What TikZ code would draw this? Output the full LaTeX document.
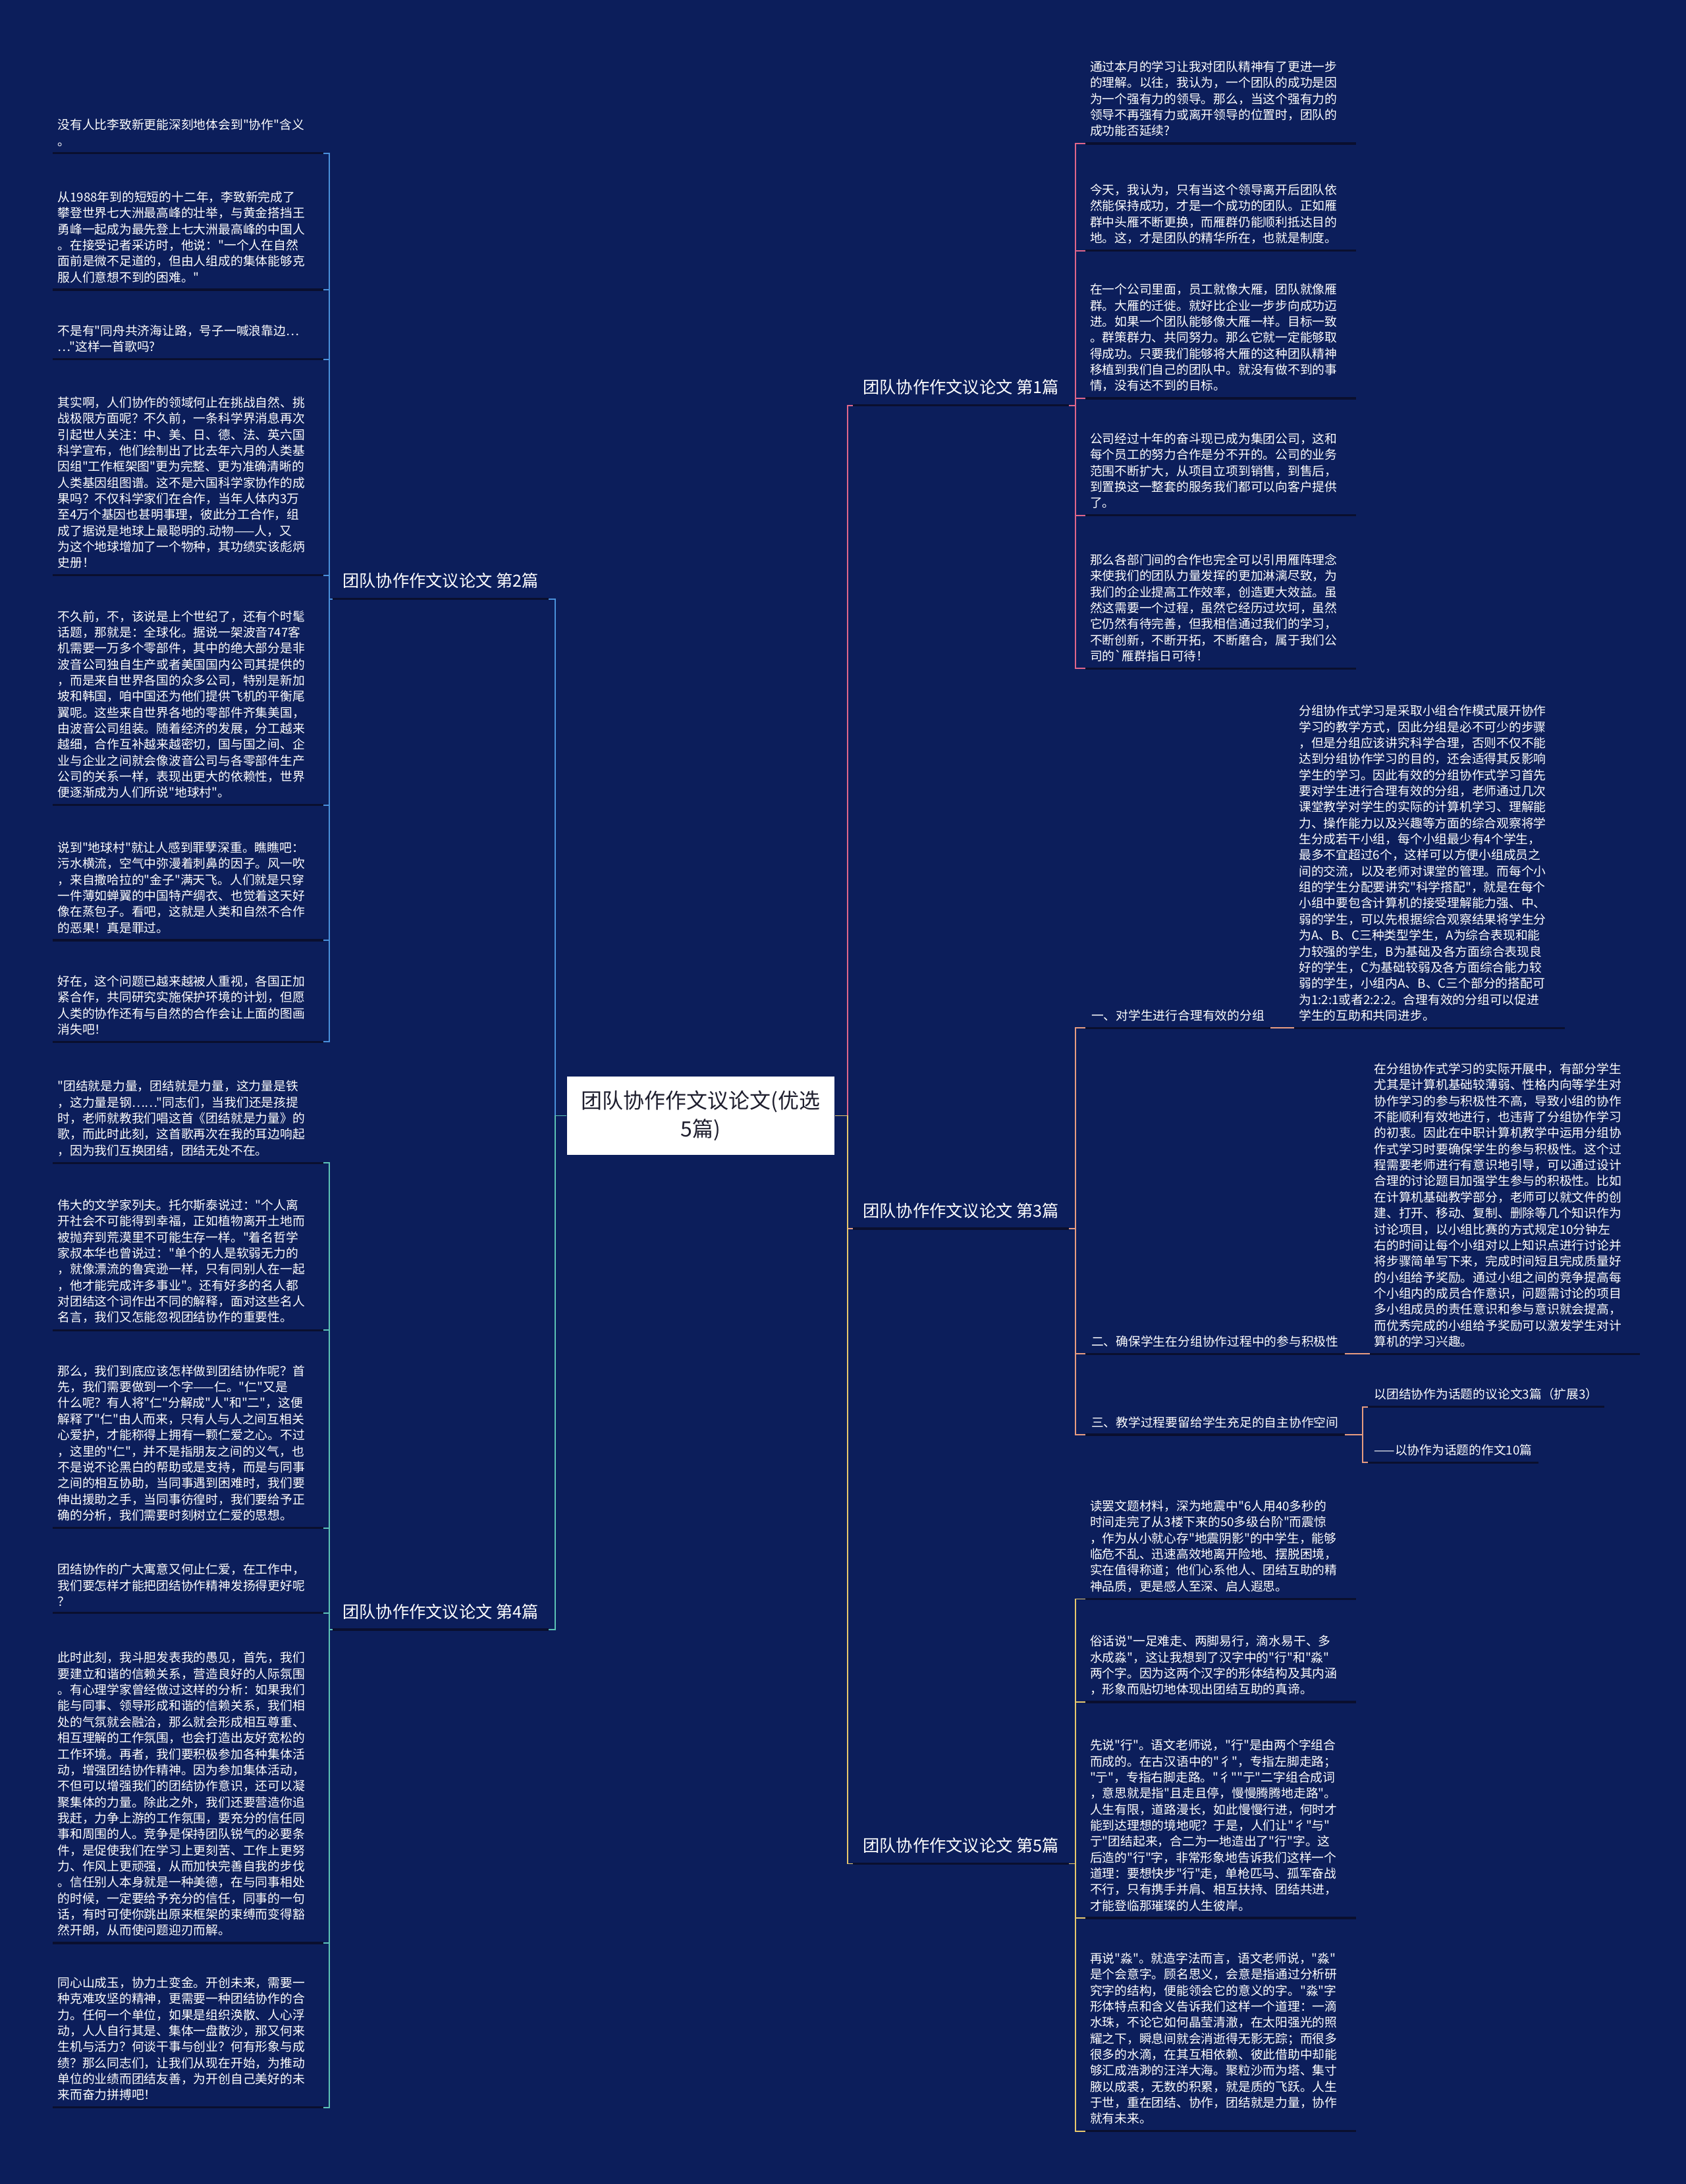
\documentclass[tikz,border=0pt]{standalone}
\usepackage{fontspec}
\newfontfamily\cjk{Noto Sans CJK SC}
\definecolor{navy}{HTML}{0C1E5B}
\definecolor{shadow}{HTML}{0A0F2E}
\definecolor{rootink}{HTML}{1E1E2E}
\definecolor{partone}{HTML}{E0668A}
\definecolor{parttwo}{HTML}{4A90DA}
\definecolor{partthree}{HTML}{E89C80}
\definecolor{partfour}{HTML}{5CC2B6}
\definecolor{partfive}{HTML}{E8C86C}
\usetikzlibrary{positioning}
\tikzset{
  root/.style={
    fill=white, text=rootink, font=\cjk\fontsize{8.6}{11.4}\selectfont,
    align=center, minimum width=3.84cm, minimum height=1.12cm, inner sep=0pt
  },
  branch/.style={
    font=\cjk\fontsize{6.8}{8}\selectfont, text=white,
    inner xsep=0.14cm, inner ysep=0.14cm
  },
  sub/.style={
    font=\cjk\fontsize{5.05}{6.55}\selectfont, text=white,
    inner xsep=0.08cm, inner ysep=0.09cm, anchor=south west
  },
  txt/.style={
    font=\cjk\fontsize{5.05}{6.55}\selectfont, text=white, align=left,
    text width=3.75cm, inner xsep=0.06cm, inner ysep=0.09cm, anchor=south west
  },
  uline/.style={draw=shadow, line width=0.9pt},
  conn/.style={draw=#1, line width=0.5pt},
  conn/.default=parttwo,
}
\begin{document}
\begin{tikzpicture}[x=0.02cm, y=-0.02cm]
  \fill[navy] (0,0) rectangle (1210,1568);
  \useasboundingbox (0,0) rectangle (1210,1568);

  \node[root] (root) at (503,801) {团队协作作文议论文(优选\\5篇)};

  % left side: part 2 and part 4
  \node[branch, anchor=south east] (b2) at (394,430) {团队协作作文议论文 第2篇};
  \node[branch, anchor=south east] (b4) at (394,1170) {团队协作作文议论文 第4篇};

  \node[txt] (p2a) at (38,110) {没有人比李致新更能深刻地体会到"协作"含义\\。};
  \node[txt] (p2b) at (38,208) {从1988年到的短短的十二年，李致新完成了\\攀登世界七大洲最高峰的壮举，与黄金搭挡王\\勇峰一起成为最先登上七大洲最高峰的中国人\\。在接受记者采访时，他说："一个人在自然\\面前是微不足道的，但由人组成的集体能够克\\服人们意想不到的困难。"};
  \node[txt] (p2c) at (38,258) {不是有"同舟共济海让路，号子一喊浪靠边…\\…"这样一首歌吗?};
  \node[txt] (p2d) at (38,413) {其实啊，人们协作的领域何止在挑战自然、挑\\战极限方面呢？不久前，一条科学界消息再次\\引起世人关注：中、美、日、德、法、英六国\\科学宣布，他们绘制出了比去年六月的人类基\\因组"工作框架图"更为完整、更为准确清晰的\\人类基因组图谱。这不是六国科学家协作的成\\果吗？不仅科学家们在合作，当年人体内3万\\至4万个基因也甚明事理，彼此分工合作，组\\成了据说是地球上最聪明的.动物——人，又\\为这个地球增加了一个物种，其功绩实该彪炳\\史册！};
  \node[txt] (p2e) at (38,578) {不久前，不，该说是上个世纪了，还有个时髦\\话题，那就是：全球化。据说一架波音747客\\机需要一万多个零部件，其中的绝大部分是非\\波音公司独自生产或者美国国内公司其提供的\\，而是来自世界各国的众多公司，特别是新加\\坡和韩国，咱中国还为他们提供飞机的平衡尾\\翼呢。这些来自世界各地的零部件齐集美国，\\由波音公司组装。随着经济的发展，分工越来\\越细，合作互补越来越密切，国与国之间、企\\业与企业之间就会像波音公司与各零部件生产\\公司的关系一样，表现出更大的依赖性，世界\\便逐渐成为人们所说"地球村"。};
  \node[txt] (p2f) at (38,675) {说到"地球村"就让人感到罪孽深重。瞧瞧吧：\\污水横流，空气中弥漫着刺鼻的因子。风一吹\\，来自撒哈拉的"金子"满天飞。人们就是只穿\\一件薄如蝉翼的中国特产绸衣、也觉着这天好\\像在蒸包子。看吧，这就是人类和自然不合作\\的恶果！真是罪过。};
  \node[txt] (p2g) at (38,748) {好在，这个问题已越来越被人重视，各国正加\\紧合作，共同研究实施保护环境的计划，但愿\\人类的协作还有与自然的合作会让上面的图画\\消失吧！};

  \node[txt] (p4a) at (38,835) {"团结就是力量，团结就是力量，这力量是铁\\，这力量是钢……"同志们，当我们还是孩提\\时，老师就教我们唱这首《团结就是力量》的\\歌，而此时此刻，这首歌再次在我的耳边响起\\，因为我们互换团结，团结无处不在。};
  \node[txt] (p4b) at (38,955) {伟大的文学家列夫。托尔斯泰说过："个人离\\开社会不可能得到幸福，正如植物离开土地而\\被抛弃到荒漠里不可能生存一样。"着名哲学\\家叔本华也曾说过："单个的人是软弱无力的\\，就像漂流的鲁宾逊一样，只有同别人在一起\\，他才能完成许多事业"。还有好多的名人都\\对团结这个词作出不同的解释，面对这些名人\\名言，我们又怎能忽视团结协作的重要性。};
  \node[txt] (p4c) at (38,1097) {那么，我们到底应该怎样做到团结协作呢？首\\先，我们需要做到一个字——仁。"仁"又是\\什么呢？有人将"仁"分解成"人"和"二"，这便\\解释了"仁"由人而来，只有人与人之间互相关\\心爱护，才能称得上拥有一颗仁爱之心。不过\\，这里的"仁"，并不是指朋友之间的义气，也\\不是说不论黑白的帮助或是支持，而是与同事\\之间的相互协助，当同事遇到困难时，我们要\\伸出援助之手，当同事彷徨时，我们要给予正\\确的分析，我们需要时刻树立仁爱的思想。};
  \node[txt] (p4d) at (38,1158) {团结协作的广大寓意又何止仁爱，在工作中，\\我们要怎样才能把团结协作精神发扬得更好呢\\？};
  \node[txt] (p4e) at (38,1395) {此时此刻，我斗胆发表我的愚见，首先，我们\\要建立和谐的信赖关系，营造良好的人际氛围\\。有心理学家曾经做过这样的分析：如果我们\\能与同事、领导形成和谐的信赖关系，我们相\\处的气氛就会融洽，那么就会形成相互尊重、\\相互理解的工作氛围，也会打造出友好宽松的\\工作环境。再者，我们要积极参加各种集体活\\动，增强团结协作精神。因为参加集体活动，\\不但可以增强我们的团结协作意识，还可以凝\\聚集体的力量。除此之外，我们还要营造你追\\我赶，力争上游的工作氛围，要充分的信任同\\事和周围的人。竞争是保持团队锐气的必要条\\件，是促使我们在学习上更刻苦、工作上更努\\力、作风上更顽强，从而加快完善自我的步伐\\。信任别人本身就是一种美德，在与同事相处\\的时候，一定要给予充分的信任，同事的一句\\话，有时可使你跳出原来框架的束缚而变得豁\\然开朗，从而使问题迎刃而解。};
  \node[txt] (p4f) at (38,1513) {同心山成玉，协力土变金。开创未来，需要一\\种克难攻坚的精神，更需要一种团结协作的合\\力。任何一个单位，如果是组织涣散、人心浮\\动，人人自行其是、集体一盘散沙，那又何来\\生机与活力？何谈干事与创业？何有形象与成\\绩？那么同志们，让我们从现在开始，为推动\\单位的业绩而团结友善，为开创自己美好的未\\来而奋力拼搏吧！};

  % right side: parts 1, 3 and 5
  \node[branch, anchor=south west] (b1) at (612,291) {团队协作作文议论文 第1篇};
  \node[branch, anchor=south west] (b3) at (612,882) {团队协作作文议论文 第3篇};
  \node[branch, anchor=south west] (b5) at (612,1338) {团队协作作文议论文 第5篇};

  \node[txt] (p1a) at (779,103) {通过本月的学习让我对团队精神有了更进一步\\的理解。以往，我认为，一个团队的成功是因\\为一个强有力的领导。那么，当这个强有力的\\领导不再强有力或离开领导的位置时，团队的\\成功能否延续?};
  \node[txt] (p1b) at (779,180) {今天，我认为，只有当这个领导离开后团队依\\然能保持成功，才是一个成功的团队。正如雁\\群中头雁不断更换，而雁群仍能顺利抵达目的\\地。这，才是团队的精华所在，也就是制度。};
  \node[txt] (p1c) at (779,286) {在一个公司里面，员工就像大雁，团队就像雁\\群。大雁的迁徙。就好比企业一步步向成功迈\\进。如果一个团队能够像大雁一样。目标一致\\。群策群力、共同努力。那么它就一定能够取\\得成功。只要我们能够将大雁的这种团队精神\\移植到我们自己的团队中。就没有做不到的事\\情，没有达不到的目标。};
  \node[txt] (p1d) at (779,370) {公司经过十年的奋斗现已成为集团公司，这和\\每个员工的努力合作是分不开的。公司的业务\\范围不断扩大，从项目立项到销售，到售后，\\到置换这一整套的服务我们都可以向客户提供\\了。};
  \node[txt] (p1e) at (779,480) {那么各部门间的合作也完全可以引用雁阵理念\\来使我们的团队力量发挥的更加淋漓尽致，为\\我们的企业提高工作效率，创造更大效益。虽\\然这需要一个过程，虽然它经历过坎坷，虽然\\它仍然有待完善，但我相信通过我们的学习，\\不断创新，不断开拓，不断磨合，属于我们公\\司的\textasciigrave 雁群指日可待！};

  \node[sub] (s1) at (779,738) {一、对学生进行合理有效的分组};
  \node[sub] (s2) at (779,972) {二、确保学生在分组协作过程中的参与积极性};
  \node[sub] (s3) at (779,1030) {三、教学过程要留给学生充足的自主协作空间};
  \node[txt] (p3a) at (929,738) {分组协作式学习是采取小组合作模式展开协作\\学习的教学方式，因此分组是必不可少的步骤\\，但是分组应该讲究科学合理，否则不仅不能\\达到分组协作学习的目的，还会适得其反影响\\学生的学习。因此有效的分组协作式学习首先\\要对学生进行合理有效的分组，老师通过几次\\课堂教学对学生的实际的计算机学习、理解能\\力、操作能力以及兴趣等方面的综合观察将学\\生分成若干小组，每个小组最少有4个学生，\\最多不宜超过6个，这样可以方便小组成员之\\间的交流，以及老师对课堂的管理。而每个小\\组的学生分配要讲究"科学搭配"，就是在每个\\小组中要包含计算机的接受理解能力强、中、\\弱的学生，可以先根据综合观察结果将学生分\\为A、B、C三种类型学生，A为综合表现和能\\力较强的学生，B为基础及各方面综合表现良\\好的学生，C为基础较弱及各方面综合能力较\\弱的学生，小组内A、B、C三个部分的搭配可\\为1:2:1或者2:2:2。合理有效的分组可以促进\\学生的互助和共同进步。};
  \node[txt] (p3b) at (983,972) {在分组协作式学习的实际开展中，有部分学生\\尤其是计算机基础较薄弱、性格内向等学生对\\协作学习的参与积极性不高，导致小组的协作\\不能顺利有效地进行，也违背了分组协作学习\\的初衷。因此在中职计算机教学中运用分组协\\作式学习时要确保学生的参与积极性。这个过\\程需要老师进行有意识地引导，可以通过设计\\合理的讨论题目加强学生参与的积极性。比如\\在计算机基础教学部分，老师可以就文件的创\\建、打开、移动、复制、删除等几个知识作为\\讨论项目，以小组比赛的方式规定10分钟左\\右的时间让每个小组对以上知识点进行讨论并\\将步骤简单写下来，完成时间短且完成质量好\\的小组给予奖励。通过小组之间的竞争提高每\\个小组内的成员合作意识，问题需讨论的项目\\多小组成员的责任意识和参与意识就会提高，\\而优秀完成的小组给予奖励可以激发学生对计\\算机的学习兴趣。};
  \node[sub] (q1) at (982,1010) {以团结协作为话题的议论文3篇（扩展3）};
  \node[sub] (q2) at (982,1050) {——以协作为话题的作文10篇};

  \node[txt] (p5a) at (779,1148) {读罢文题材料，深为地震中"6人用40多秒的\\时间走完了从3楼下来的50多级台阶"而震惊\\，作为从小就心存"地震阴影"的中学生，能够\\临危不乱、迅速高效地离开险地、摆脱困境，\\实在值得称道；他们心系他人、团结互助的精\\神品质，更是感人至深、启人遐思。};
  \node[txt] (p5b) at (779,1222) {俗话说"一足难走、两脚易行，滴水易干、多\\水成淼"，这让我想到了汉字中的"行"和"淼"\\两个字。因为这两个汉字的形体结构及其内涵\\，形象而贴切地体现出团结互助的真谛。};
  \node[txt] (p5c) at (779,1377) {先说"行"。语文老师说，"行"是由两个字组合\\而成的。在古汉语中的"彳"，专指左脚走路；\\"亍"，专指右脚走路。"彳""亍"二字组合成词\\，意思就是指"且走且停，慢慢腾腾地走路"。\\人生有限，道路漫长，如此慢慢行进，何时才\\能到达理想的境地呢？于是，人们让"彳"与"\\亍"团结起来，合二为一地造出了"行"字。这\\后造的"行"字，非常形象地告诉我们这样一个\\道理：要想快步"行"走，单枪匹马、孤军奋战\\不行，只有携手并肩、相互扶持、团结共进，\\才能登临那璀璨的人生彼岸。};
  \node[txt] (p5d) at (779,1530) {再说"淼"。就造字法而言，语文老师说，"淼"\\是个会意字。顾名思义，会意是指通过分析研\\究字的结构，便能领会它的意义的字。"淼"字\\形体特点和含义告诉我们这样一个道理：一滴\\水珠，不论它如何晶莹清澈，在太阳强光的照\\耀之下，瞬息间就会消逝得无影无踪；而很多\\很多的水滴，在其互相依赖、彼此借助中却能\\够汇成浩渺的汪洋大海。聚粒沙而为塔、集寸\\腋以成裘，无数的积累，就是质的飞跃。人生\\于世，重在团结、协作，团结就是力量，协作\\就有未来。};

  % underlines
  \foreach \n in {b1,b2,b3,b4,b5,s1,s2,s3,q1,q2,
      p1a,p1b,p1c,p1d,p1e,p2a,p2b,p2c,p2d,p2e,p2f,p2g,
      p3a,p3b,p4a,p4b,p4c,p4d,p4e,p4f,p5a,p5b,p5c,p5d}
    \draw[uline] (\n.south west) -- (\n.south east);

  % connectors
  \draw[conn=parttwo] (root.west) -- ++(-8,0) |- (b2.south east);
  \draw[conn=partfour] (root.west) -- ++(-8,0) |- (b4.south east);
  \draw[conn=partone] (root.east) -- ++(9,0) |- (b1.south west);
  \draw[conn=partthree] (root.east) -- ++(9,0) |- (b3.south west);
  \draw[conn=partfive] (root.east) -- ++(9,0) |- (b5.south west);

  \foreach \n in {p2a,p2b,p2c,p2d,p2e,p2f,p2g}
    \draw[conn=parttwo] (\n.south east) -- ++(4,0) |- (b2.south west);
  \foreach \n in {p4a,p4b,p4c,p4d,p4e,p4f}
    \draw[conn=partfour] (\n.south east) -- ++(4,0) |- (b4.south west);
  \foreach \n in {p1a,p1b,p1c,p1d,p1e}
    \draw[conn=partone] (\n.south west) -- ++(-7,0) |- (b1.south east);
  \foreach \n in {s1,s2,s3}
    \draw[conn=partthree] (\n.south west) -- ++(-7,0) |- (b3.south east);
  \draw[conn=partthree] (s1.south east) -- (p3a.south west);
  \draw[conn=partthree] (s2.south east) -- (p3b.south west);
  \foreach \n in {q1,q2}
    \draw[conn=partthree] (\n.south west) -- ++(-4,0) |- (s3.south east);
  \foreach \n in {p5a,p5b,p5c,p5d}
    \draw[conn=partfive] (\n.south west) -- ++(-7,0) |- (b5.south east);
\end{tikzpicture}
\end{document}
